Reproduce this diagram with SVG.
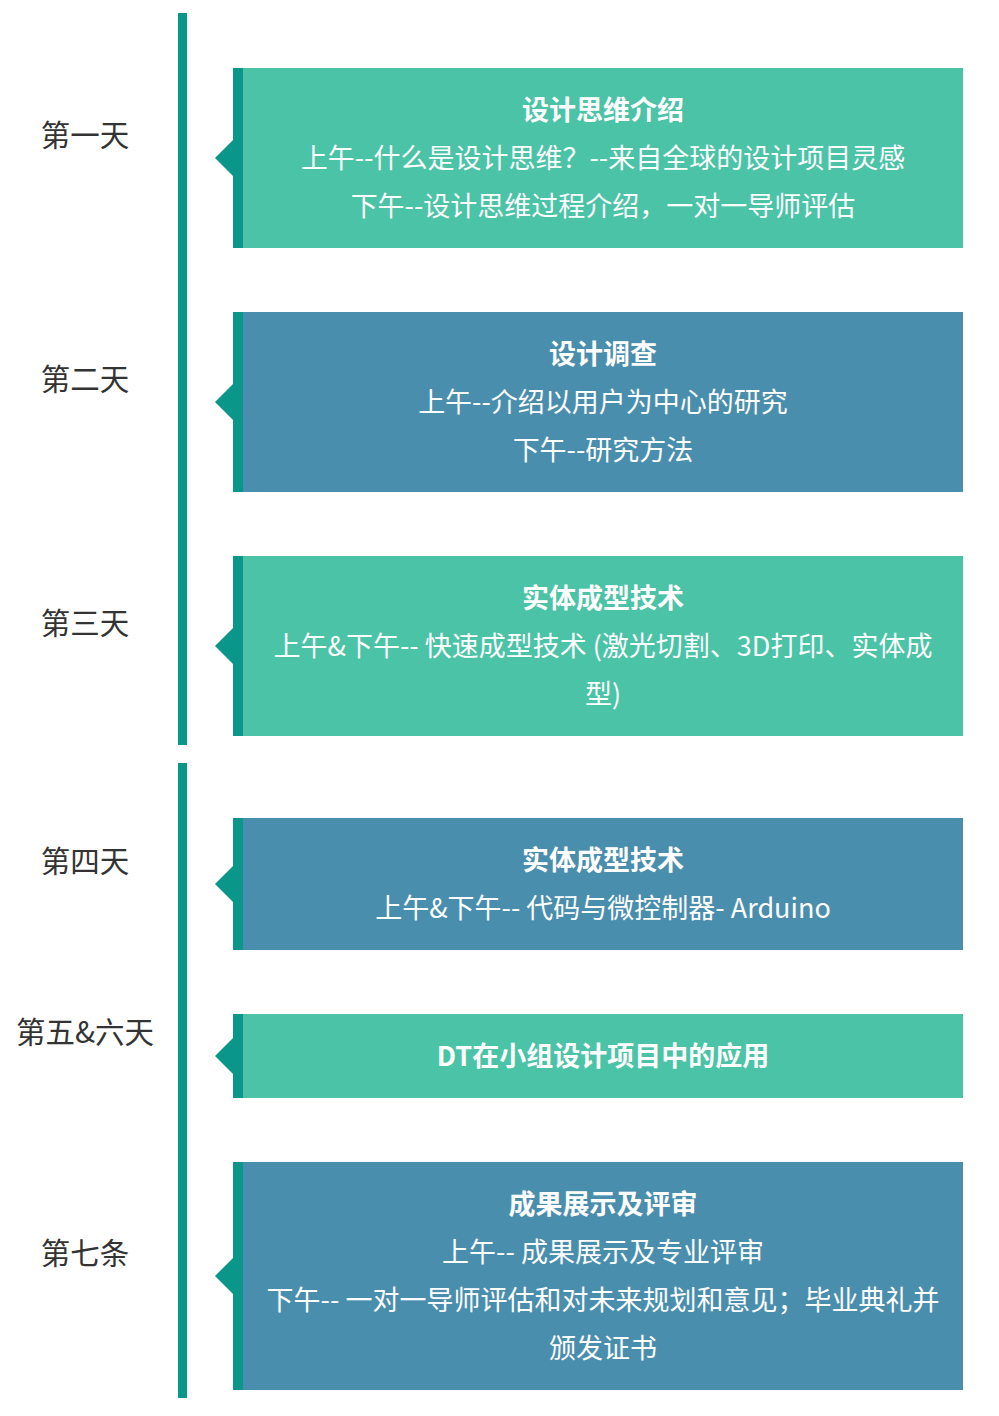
<svg xmlns="http://www.w3.org/2000/svg" width="999" height="1416" viewBox="0 0 999 1416">
<style>
.bg{fill:#ffffff}
.line{fill:#0a9688}
.strip{fill:#0a9688}
.g{fill:#4bc3a7}
.b{fill:#4a8eae}
.t{font-family:"Noto Sans CJK SC","Liberation Sans",sans-serif;font-size:27px;fill:#ffffff;text-anchor:middle;dominant-baseline:central}
.h{font-weight:bold}
.lab{font-family:"Noto Sans CJK SC","Liberation Sans",sans-serif;font-size:29.5px;fill:#333333;text-anchor:middle;dominant-baseline:central}
</style>
<rect class="bg" x="0" y="0" width="999" height="1416"/>
<g id="connectors">
<rect class="line" x="178" y="13" width="9" height="732"/>
<rect class="line" x="178" y="763" width="9" height="635"/>
</g>
<g id="day1">
<text class="lab" x="85" y="133">第一天</text>
<polygon class="strip" points="233,140 215,158 233,176"/>
<rect class="strip" x="233" y="68" width="10" height="180"/>
<rect class="g" x="243" y="68" width="720" height="180"/>
<text class="t h" x="603" y="108">设计思维介绍</text>
<text class="t" x="603" y="156">上午--什么是设计思维？--来自全球的设计项目灵感</text>
<text class="t" x="603" y="204">下午--设计思维过程介绍，一对一导师评估</text>
</g>
<g id="day2">
<text class="lab" x="85" y="377">第二天</text>
<polygon class="strip" points="233,384 215,402 233,420"/>
<rect class="strip" x="233" y="312" width="10" height="180"/>
<rect class="b" x="243" y="312" width="720" height="180"/>
<text class="t h" x="603" y="352">设计调查</text>
<text class="t" x="603" y="400">上午--介绍以用户为中心的研究</text>
<text class="t" x="603" y="448">下午--研究方法</text>
</g>
<g id="day3">
<text class="lab" x="85" y="621">第三天</text>
<polygon class="strip" points="233,628 215,646 233,664"/>
<rect class="strip" x="233" y="556" width="10" height="180"/>
<rect class="g" x="243" y="556" width="720" height="180"/>
<text class="t h" x="603" y="596">实体成型技术</text>
<text class="t" x="603" y="644">上午&amp;下午-- 快速成型技术 (激光切割、3D打印、实体成</text>
<text class="t" x="603" y="692">型)</text>
</g>
<g id="day4">
<text class="lab" x="85" y="859">第四天</text>
<polygon class="strip" points="233,866 215,884 233,902"/>
<rect class="strip" x="233" y="818" width="10" height="132"/>
<rect class="b" x="243" y="818" width="720" height="132"/>
<text class="t h" x="603" y="858">实体成型技术</text>
<text class="t" x="603" y="906">上午&amp;下午-- 代码与微控制器- Arduino</text>
</g>
<g id="day56">
<text class="lab" x="85" y="1030">第五&amp;六天</text>
<polygon class="strip" points="233,1038 215,1056 233,1074"/>
<rect class="strip" x="233" y="1014" width="10" height="84"/>
<rect class="g" x="243" y="1014" width="720" height="84"/>
<text class="t h" x="603" y="1054">DT在小组设计项目中的应用</text>
</g>
<g id="day7">
<text class="lab" x="85" y="1251">第七条</text>
<polygon class="strip" points="233,1258 215,1276 233,1294"/>
<rect class="strip" x="233" y="1162" width="10" height="228"/>
<rect class="b" x="243" y="1162" width="720" height="228"/>
<text class="t h" x="603" y="1202">成果展示及评审</text>
<text class="t" x="603" y="1250">上午-- 成果展示及专业评审</text>
<text class="t" x="603" y="1298">下午-- 一对一导师评估和对未来规划和意见；毕业典礼并</text>
<text class="t" x="603" y="1346">颁发证书</text>
</g>
</svg>
